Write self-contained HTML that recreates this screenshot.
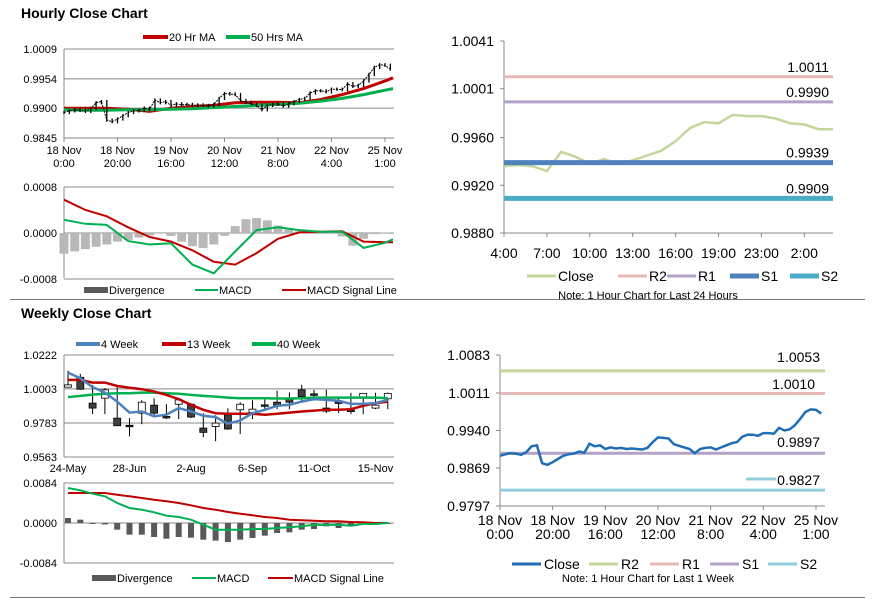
<!DOCTYPE html>
<html><head><meta charset="utf-8"><style>
html,body{margin:0;padding:0;background:#fff;}
svg{display:block;font-family:"Liberation Sans",Arial,sans-serif;}
</style></head><body>
<svg id="root" width="873" height="601" viewBox="0 0 873 601" xmlns="http://www.w3.org/2000/svg">
<rect x="0" y="0" width="873" height="601" fill="#fff"/>
<text x="21" y="18" font-size="14" font-weight="bold" fill="#000">Hourly Close Chart</text>
<text x="21" y="318" font-size="14" font-weight="bold" fill="#000">Weekly Close Chart</text>
<line x1="10" y1="299.5" x2="865" y2="299.5" stroke="#777" stroke-width="1"/>
<line x1="10" y1="597.5" x2="865" y2="597.5" stroke="#777" stroke-width="1"/>
<g id="g"></g>
</svg>
<script>
// ---------- data ----------
const hourlyHours = [0,2,4,6,8,10,12,14,16,18,20,22,24,26,28,30,32,34,36,38,40,42,44,46,48,50,52,54,56,58,60,62,64,66,68,70,72,74,76,78,80,82,84,86,88,90,92,94,96,98,100,102,104,106,108,110,112,114,116,118,120,122];
const hourlyClose = [.9892,.9895,.9897,.9896,.9894,.9899,.9910,.9912,.9878,.9875,.9880,.9886,.9892,.9895,.9896,.9900,.9898,.9915,.9910,.9912,.9905,.9908,.9906,.9907,.9905,.9906,.9905,.9904,.9907,.9918,.9927,.9926,.9925,.9914,.9911,.9908,.9905,.9897,.9905,.9907,.9908,.9904,.9908,.9912,.9916,.9918,.9928,.9932,.9932,.9930,.9935,.9935,.9934,.9945,.9940,.9942,.9950,.9962,.9975,.9980,.9979,.9972];
const hourlyTickHours = [0,20,40,60,80,100,120];
const hourlyTickLabels = [["18 Nov","0:00"],["18 Nov","20:00"],["19 Nov","16:00"],["20 Nov","12:00"],["21 Nov","8:00"],["22 Nov","4:00"],["25 Nov","1:00"]];
const hourlyPriceTicks = [1.0009,0.9954,0.9900,0.9845];
const maHours = [0,8,16,24,32,40,48,56,64,72,80,88,96,104,112,120,123];
const ma20 = [.9900,.9900,.9900,.9898,.9894,.9900,.9903,.9905,.9910,.9911,.9911,.9910,.9916,.9925,.9936,.9950,.9956];
const ma50 = [.9897,.9896,.9896,.9897,.9897,.9898,.9899,.9901,.9903,.9905,.9907,.9909,.9913,.9918,.9925,.9933,.9936];
const hMacd = [2.3,1.6,1.4,-1.4,-2.0,-1.8,-5.5,-7.0,-3.2,0.5,1.0,0.5,0.2,0.2,-2.6,-1.7,-1.1];
const hSignal = [5.8,4.0,2.9,1.0,-0.7,-1.5,-3.0,-5.0,-5.5,-3.5,-1.0,0.1,0.2,0.3,-1.5,-1.6,-1.6];
const divHours = [0,4,8,12,16,20,24,28,32,36,40,44,48,52,56,60,64,68,72,76,80,84,88,92,96,100,104,108,112,116,120];
const hDiv = [-3.6,-3.2,-2.8,-2.4,-2.0,-1.5,-1.2,-0.8,-0.4,-0.1,-0.5,-1.5,-2.3,-2.6,-2.0,-0.5,1.2,2.4,2.6,2.2,1.3,0.6,0.3,0.2,0.1,0.1,-0.6,-2.2,-1.0,-0.2,0.1];
const hMacdTicks = [8,0,-8];
const hMacdTickLabels = ["0.0008","0.0000","-0.0008"];

const dayClose = [.9936,.9937,.9936,.9932,.9948,.9944,.9938,.9942,.9938,.9941,.9945,.9949,.9957,.9968,.9973,.9972,.9979,.9978,.9978,.9976,.9972,.9971,.9967,.9967];
const dayTickIdx = [0,3,6,9,12,15,18,21];
const dayTickLabels = ["4:00","7:00","10:00","13:00","16:00","19:00","23:00","2:00"];
const dayPriceTicks = [1.0041,1.0001,0.9960,0.9920,0.9880];
const dayPriceLabels = ["1.0041","1.0001","0.9960","0.9920","0.9880"];
const dayLevels = [1.0011,0.9990,0.9939,0.9909];
const dayLevelLabels = ["1.0011","0.9990","0.9939","0.9909"];

const weekPriceTicks = [1.0083,1.0011,0.9940,0.9869,0.9797];
const weekPriceLabels = ["1.0083","1.0011","0.9940","0.9869","0.9797"];
const weekLevels = [1.0053,1.0010,0.9897,0.9827];
const weekLevelLabels = ["1.0053","1.0010","0.9897","0.9827"];

const wOpen  = [1.0014,1.0078,.9911,.9943,.9814,.9768,.9846,.9898,.9825,.9904,.9904,.9750,.9760,.9836,.9868,.9850,.9900,.9917,.9945,.9997,.9971,.9879,.9919,.9866,.9945,.9879,.9939];
const wClose = [1.0029,1.0001,.9879,.9997,.9765,.9765,.9917,.9846,.9820,.9932,.9821,.9722,.9782,.9744,.9904,.9872,.9898,.9898,.9917,.9953,.9969,.9859,.9917,.9859,.9974,.9898,.9974];
const wHigh  = [1.0121,1.0100,1.0029,1.0008,1.0014,.9814,.9930,.9943,.9904,.9945,.9911,.9846,.9833,.9878,.9917,.9930,.9936,.9991,.9980,1.0029,.9997,.9997,.9945,.9978,.9974,.9978,.9980];
const wLow   = [1.0014,.9997,.9840,.9840,.9765,.9696,.9775,.9833,.9808,.9808,.9815,.9691,.9665,.9738,.9711,.9808,.9872,.9872,.9872,.9917,.9930,.9846,.9846,.9840,.9840,.9872,.9872];
const w4  = [1.0108,1.0072,1.0014,.9979,.9921,.9850,.9857,.9825,.9836,.9879,.9857,.9829,.9821,.9778,.9799,.9846,.9868,.9894,.9900,.9921,.9937,.9932,.9926,.9906,.9906,.9911,.9932];
const w13 = [1.0061,1.0061,1.0044,1.0044,1.0022,1.0011,1.0001,.9986,.9964,.9937,.9900,.9868,.9846,.9842,.9842,.9842,.9836,.9842,.9850,.9857,.9863,.9868,.9868,.9872,.9894,.9911,.9921];
const w40 = [.9950,.9958,.9966,.9971,.9975,.9975,.9979,.9979,.9975,.9971,.9964,.9958,.9953,.9947,.9943,.9943,.9943,.9941,.9941,.9943,.9947,.9947,.9947,.9947,.9947,.9947,.9943];
const wTickIdx = [0,5,10,15,20,25];
const wTickLabels = ["24-May","28-Jun","2-Aug","6-Sep","11-Oct","15-Nov"];
const wPriceTicks = [1.0222,1.0003,0.9783,0.9563];
const wMacd = [73.5,68.6,61.6,56,42,31.5,28,22.4,15.4,12.6,7,-3.5,-14,-14,-14,-12.6,-12.6,-10.5,-9.1,-7,-3.5,-4.2,-3.5,-5.6,-2.1,-2.1,0];
const wSignal = [63,63,63,63,59.5,56,52.5,49,45.5,42,37.1,31.5,28,23.1,19.6,16.1,12.6,10.5,7,5.6,4.9,3.5,3.5,2.1,1.4,0,0];
const wDiv = [10.5,7,-2,-3,-14,-24.5,-24.5,-29.4,-33,-29.4,-30.8,-35,-37,-40,-35,-31.5,-26.6,-21,-19.6,-14,-12.6,-7,-10.5,-7,-3.5,-3.5,-2];
const wMacdTicks = [84,0,-84];
const wMacdTickLabels = ["0.0084","0.0000","-0.0084"];

// ---------- helpers ----------
const NS = "http://www.w3.org/2000/svg";
const G = document.getElementById('g');
function mk(tag, attrs, parent){const e=document.createElementNS(NS,tag);for(const k in attrs)e.setAttribute(k,attrs[k]);(parent||G).appendChild(e);return e;}
function txt(x,y,s,size,anchor,parent){const t=mk('text',{x:x,y:y,'font-size':size,'text-anchor':anchor||'start',fill:'#000'},parent);t.textContent=s;return t;}
function pts(xs,ys){return xs.map((x,i)=>x.toFixed(1)+','+ys[i].toFixed(1)).join(' ');}

// ---------- Hourly close chart (top-left) ----------
const xH = h => 64 + h*2.675;
const yH = v => 49 + (1.0009 - v)/0.0164*89;
const yHM = v => 233 - v/8*46;
let el;
hourlyPriceTicks.forEach((v,i)=>{
  el = mk('line',{x1:64,x2:394,y1:yH(v),y2:yH(v),stroke:'#888','stroke-width':1});
  
  
  el = txt(57,yH(v)+4,v.toFixed(4),11,'end');
  
  
});
el = mk('line',{x1:64,x2:64,y1:49,y2:138,stroke:'#888'});


hourlyTickHours.forEach((h,i)=>{
  el = mk('line',{x1:xH(h),x2:xH(h),y1:138,y2:142,stroke:'#888'});
  
  
  el = txt(xH(h),154,hourlyTickLabels[i][0],11,'middle');
  
  
  el = txt(xH(h),167,hourlyTickLabels[i][1],11,'middle');
  
  
});
el = mk('polyline',{points:pts(maHours.map(xH),ma20.map(yH)),fill:'none',stroke:'#c00000','stroke-width':3});


el = mk('polyline',{points:pts(maHours.map(xH),ma50.map(yH)),fill:'none',stroke:'#00b050','stroke-width':3});


el = mk('polyline',{points:pts(hourlyHours.map(xH),hourlyClose.map(yH)),fill:'none',stroke:'#000','stroke-width':1,'stroke-dasharray':'2 1'});


hourlyClose.forEach((v,i)=>{
  const prev = i>0 ? hourlyClose[i-1] : v;
  const hi = Math.max(v,prev)+0.0003, lo = Math.min(v,prev)-0.0003;
  el = mk('line',{x1:xH(hourlyHours[i]),x2:xH(hourlyHours[i]),y1:yH(hi),y2:yH(lo),stroke:'#000','stroke-width':1.3});
  
  
});
// legend
el = mk('line',{x1:143,x2:168,y1:37,y2:37,stroke:'#c00000','stroke-width':4});


el = txt(169,41,'20 Hr MA',11);


el = mk('line',{x1:226,x2:250,y1:37,y2:37,stroke:'#00b050','stroke-width':4});


el = txt(251,41,'50 Hrs MA',11);



// hourly MACD
hMacdTicks.forEach((v,i)=>{
  el = mk('line',{x1:64,x2:394,y1:yHM(v),y2:yHM(v),stroke:'#888'});
  
  
  el = txt(57,yHM(v)+4,hMacdTickLabels[i],11,'end');
  
  
});
el = mk('line',{x1:64,x2:64,y1:187,y2:278,stroke:'#888'});


hDiv.forEach((v,i)=>{
  const y0=yHM(0), y1=yHM(v);
  el = mk('rect',{x:xH(divHours[i])-4.5,y:Math.min(y0,y1),width:9,height:Math.max(0.5,Math.abs(y1-y0)),fill:'#b8b8b8'});
  
  
});
el = mk('polyline',{points:pts(maHours.map(xH),hSignal.map(yHM)),fill:'none',stroke:'#c00000','stroke-width':2});


el = mk('polyline',{points:pts(maHours.map(xH),hMacd.map(yHM)),fill:'none',stroke:'#00b050','stroke-width':2});


el = mk('rect',{x:84,y:287,width:24,height:6,fill:'#595959'});


el = txt(109,294,'Divergence',11);


el = mk('line',{x1:195,x2:218,y1:290,y2:290,stroke:'#00b050','stroke-width':2});


el = txt(219,294,'MACD',11);


el = mk('line',{x1:282,x2:306,y1:290,y2:290,stroke:'#c00000','stroke-width':2});


el = txt(307,294,'MACD Signal Line',11);



// ---------- 24h chart (top-right) ----------
const xD = i => 504 + i*14.3;
const yD = v => 41 + (1.0041 - v)/0.0161*192;
el = mk('line',{x1:504,x2:504,y1:41,y2:233,stroke:'#888'});


el = mk('line',{x1:504,x2:833,y1:233,y2:233,stroke:'#888'});


dayPriceTicks.forEach((v,i)=>{
  el = mk('line',{x1:500,x2:504,y1:yD(v),y2:yD(v),stroke:'#888'});
  
  
  el = txt(494,yD(v)+5,dayPriceLabels[i],14,'end');
  
  
});
dayTickIdx.forEach((t,i)=>{
  el = mk('line',{x1:xD(t),x2:xD(t),y1:233,y2:237,stroke:'#888'});
  
  
  el = txt(xD(t),258,dayTickLabels[i],14,'middle');
  
  
});
const dayColors = ['#e6b9b8','#b3a2c7','#4f81bd','#4bacc6'];
const dayWidths = [3,3,5,5];
const dayNames = ['R2','R1','S1','S2'];
el = mk('polyline',{points:pts(dayClose.map((v,i)=>xD(i)),dayClose.map(yD)),fill:'none',stroke:'#c3d69b','stroke-width':2.5});


dayLevels.forEach((v,i)=>{
  el = mk('line',{x1:504,x2:833,y1:yD(v),y2:yD(v),stroke:dayColors[i],'stroke-width':dayWidths[i]});
  
  
  el = txt(829,yD(v)-5,dayLevelLabels[i],14,'end');
  
  
});
const dayLegX = [527,618,667,730,790];
const dayLegC = ['#c3d69b'].concat(dayColors);
const dayLegW = [3,3,3,5,5];
const dayLegN = ['Close'].concat(dayNames);
dayLegN.forEach((n,i)=>{
  el = mk('line',{x1:dayLegX[i],x2:dayLegX[i]+29,y1:276,y2:276,stroke:dayLegC[i],'stroke-width':dayLegW[i]});
  
  
  el = txt(dayLegX[i]+31,281,n,14);
  
  
});
el = txt(648,299,'Note: 1 Hour Chart for Last 24 Hours',11,'middle');



// ---------- 1-week chart (bottom-right) ----------
const xW = h => 500 + h*2.633;
const yW = v => 355 + (1.0083 - v)/0.0286*151;
el = mk('line',{x1:500,x2:500,y1:355,y2:506,stroke:'#888'});


el = mk('line',{x1:500,x2:825,y1:506,y2:506,stroke:'#888'});


weekPriceTicks.forEach((v,i)=>{
  el = mk('line',{x1:496,x2:500,y1:yW(v),y2:yW(v),stroke:'#888'});
  
  
  el = txt(490,yW(v)+5,weekPriceLabels[i],14,'end');
  
  
});
hourlyTickHours.forEach((h,i)=>{
  el = mk('line',{x1:xW(h),x2:xW(h),y1:506,y2:510,stroke:'#888'});
  
  
  el = txt(xW(h),525,hourlyTickLabels[i][0],14,'middle');
  
  
  el = txt(xW(h),539,hourlyTickLabels[i][1],14,'middle');
  
  
});
const weekColors = ['#c3d69b','#e6b9b8','#b3a2c7','#93cddd'];
weekLevels.forEach((v,i)=>{
  el = mk('line',{x1:500,x2:825,y1:yW(v),y2:yW(v),stroke:weekColors[i],'stroke-width':3});
  
  
});
el = mk('polyline',{points:pts(hourlyHours.map(xW),hourlyClose.map(yW)),fill:'none',stroke:'#1f6eb5','stroke-width':2.5});


const wLblY = [362,389,447,485];
weekLevels.forEach((v,i)=>{
  el = txt(i===1?815:820,wLblY[i],weekLevelLabels[i],14,'end');
  
  
});
el = mk('line',{x1:746,x2:776,y1:479,y2:479,stroke:'#93cddd','stroke-width':3});


const wLegX = [512,589,650,710,768];
const wLegC = ['#1f6eb5'].concat(weekColors);
wLegC.forEach((c,i)=>{
  el = mk('line',{x1:wLegX[i],x2:wLegX[i]+29,y1:564,y2:564,stroke:c,'stroke-width':3});
  
  
  el = txt(wLegX[i]+32,569,dayLegN[i],14);
  
  
});
el = txt(648,582,'Note: 1 Hour Chart for Last 1 Week',11,'middle');



// ---------- Weekly close chart (bottom-left) ----------
const xK = i => 68 + i*12.3;
const yK = v => 355 + (1.0222 - v)/0.0659*102;
const yKM = v => 523 - v/84*40;
wPriceTicks.forEach((v,i)=>{
  el = mk('line',{x1:64,x2:394,y1:yK(v),y2:yK(v),stroke:'#888'});
  
  
  el = txt(57,yK(v)+4,v.toFixed(4),11,'end');
  
  
});
el = mk('line',{x1:64,x2:64,y1:355,y2:457,stroke:'#888'});


wTickIdx.forEach((t,i)=>{
  el = txt(xK(t),472,wTickLabels[i],11,'middle');
  
  
});
wOpen.forEach((o,i)=>{
  const c = wClose[i];
  el = mk('line',{x1:xK(i),x2:xK(i),y1:yK(wHigh[i]),y2:yK(wLow[i]),stroke:'#000','stroke-width':1});
  
  
  const top = yK(Math.max(o,c)), bot = yK(Math.min(o,c));
  el = mk('rect',{x:xK(i)-3.5,y:top,width:7,height:Math.max(1.5,bot-top),fill:c>=o?'#fff':'#404040',stroke:'#000','stroke-width':0.8});
  
  
});
const wIdx = wOpen.map((_,i)=>i);
el = mk('polyline',{points:pts(wIdx.map(xK),w40.map(yK)),fill:'none',stroke:'#00b050','stroke-width':2.5});


el = mk('polyline',{points:pts(wIdx.map(xK),w13.map(yK)),fill:'none',stroke:'#c00000','stroke-width':2.5});


el = mk('polyline',{points:pts(wIdx.map(xK),w4.map(yK)),fill:'none',stroke:'#4f81bd','stroke-width':2.5});


const wkLegX = [76,162,252];
const wkLegC = ['#4f81bd','#c00000','#00b050'];
const wkLegN = ['4 Week','13 Week','40 Week'];
wkLegN.forEach((n,i)=>{
  el = mk('line',{x1:wkLegX[i],x2:wkLegX[i]+24,y1:344,y2:344,stroke:wkLegC[i],'stroke-width':4});
  
  
  el = txt(wkLegX[i]+25,348,n,11);
  
  
});
// weekly MACD
wMacdTicks.forEach((v,i)=>{
  el = mk('line',{x1:64,x2:394,y1:yKM(v),y2:yKM(v),stroke:'#888'});
  
  
  el = txt(57,yKM(v)+4,wMacdTickLabels[i],11,'end');
  
  
});
el = mk('line',{x1:64,x2:64,y1:483,y2:563,stroke:'#888'});


wDiv.forEach((v,i)=>{
  const y0=yKM(0), y1=yKM(v);
  el = mk('rect',{x:xK(i)-3,y:Math.min(y0,y1),width:6,height:Math.max(0.5,Math.abs(y1-y0)),fill:'#595959'});
  
  
});
el = mk('polyline',{points:pts(wIdx.map(xK),wSignal.map(yKM)),fill:'none',stroke:'#c00000','stroke-width':2});


el = mk('polyline',{points:pts(wIdx.map(xK),wMacd.map(yKM)),fill:'none',stroke:'#00b050','stroke-width':2});


el = mk('rect',{x:92,y:575,width:24,height:6,fill:'#595959'});


el = txt(117,582,'Divergence',11);


el = mk('line',{x1:192,x2:216,y1:578,y2:578,stroke:'#00b050','stroke-width':2});


el = txt(217,582,'MACD',11);


el = mk('line',{x1:268,x2:293,y1:578,y2:578,stroke:'#c00000','stroke-width':2});


el = txt(294,582,'MACD Signal Line',11);


</script>
</body></html>
